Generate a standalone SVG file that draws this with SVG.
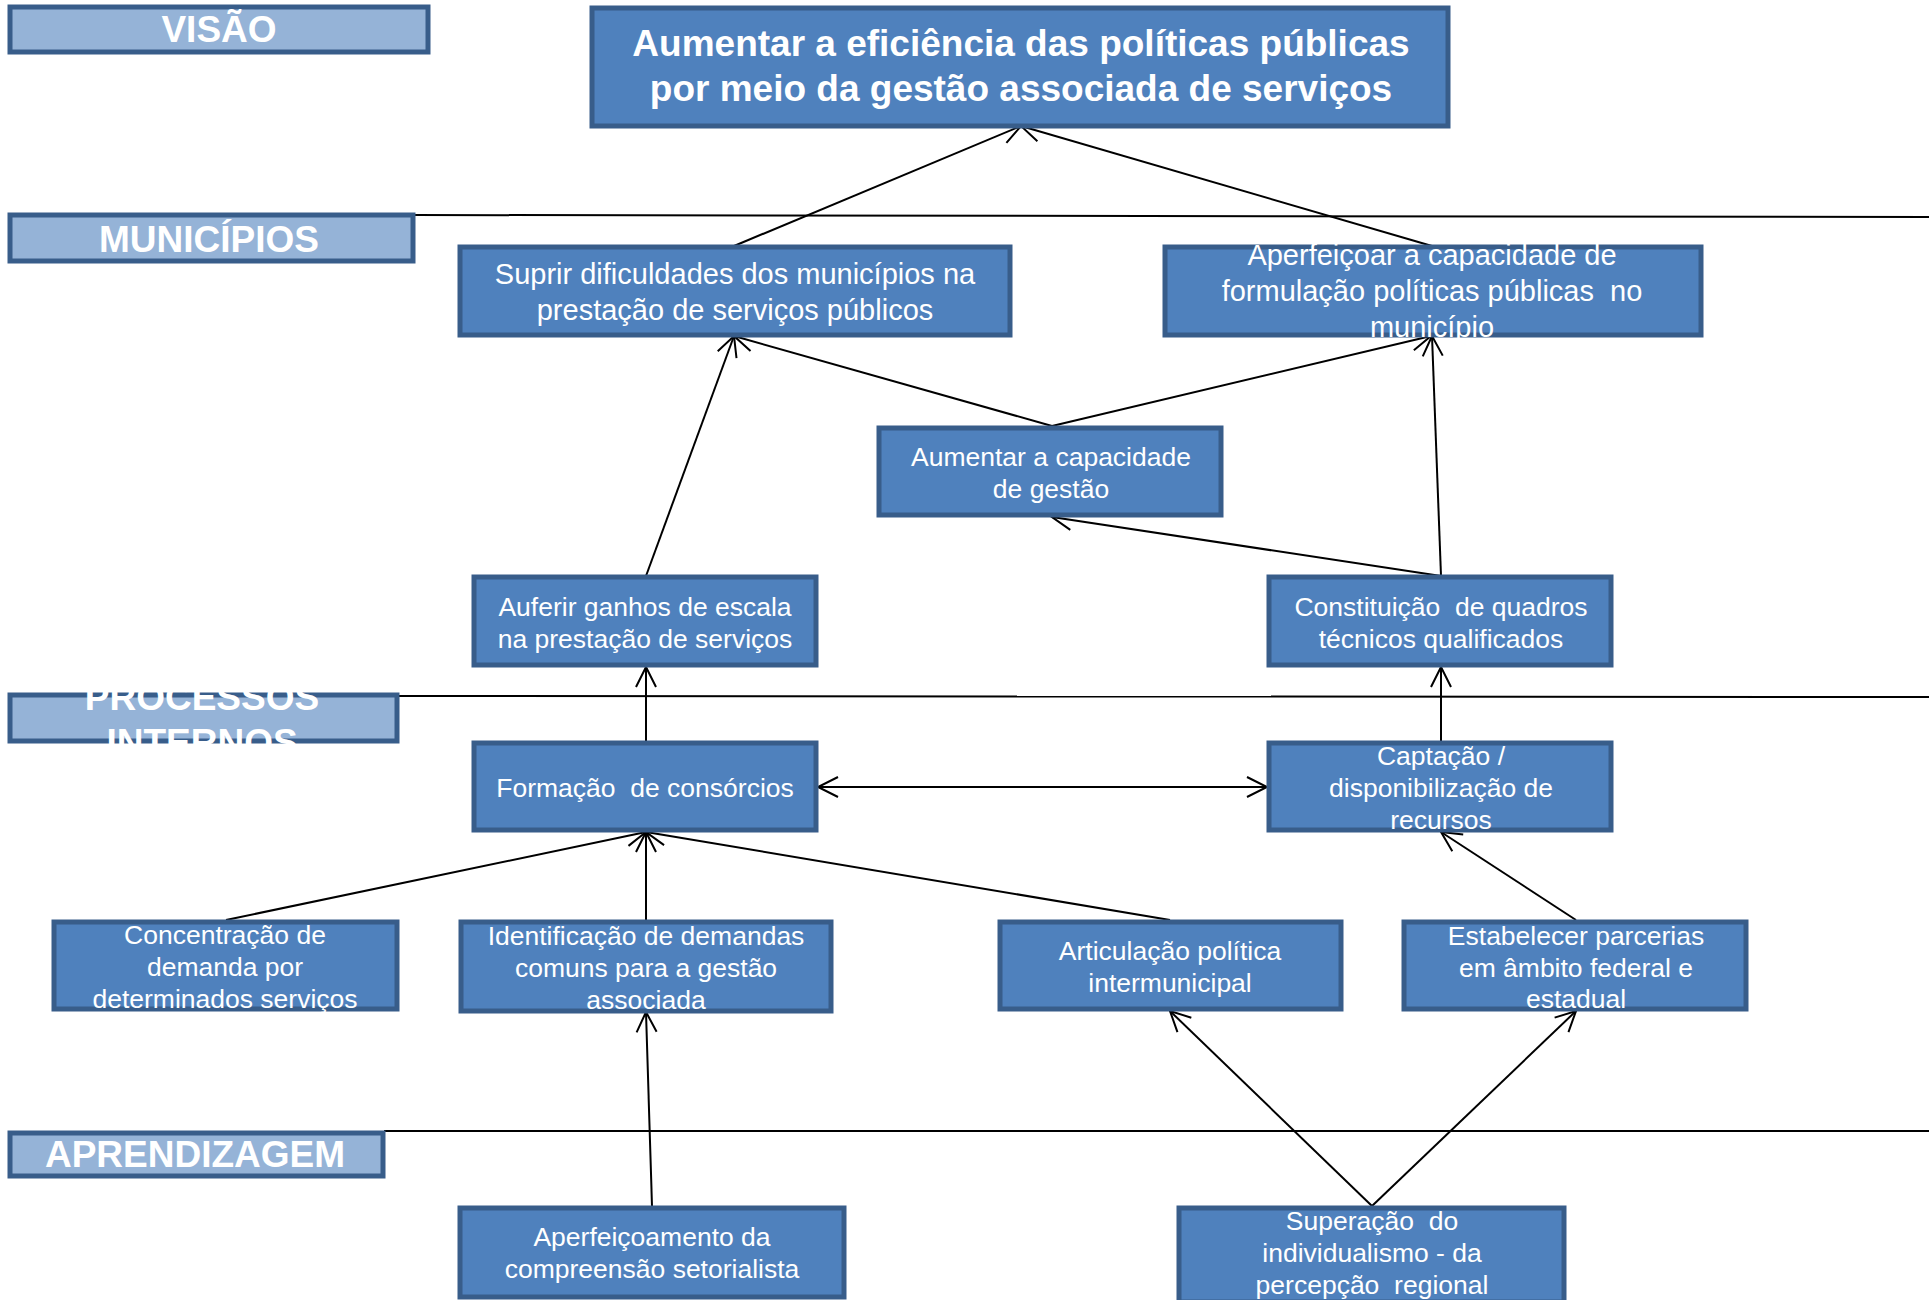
<svg xmlns="http://www.w3.org/2000/svg" width="1929" height="1300" viewBox="0 0 1929 1300">
<style>
.lane{fill:#95B3D7;stroke:#385D8A;stroke-width:5}
.node{fill:#4F81BD;stroke:#385D8A;stroke-width:5}
.lt{font-family:"Liberation Sans",Arial,sans-serif;font-weight:bold;font-size:37px;fill:#ffffff;text-anchor:middle}
.gt{font-family:"Liberation Sans",Arial,sans-serif;font-weight:bold;font-size:37px;fill:#ffffff;text-anchor:middle}
.t1{font-family:"Liberation Sans",Arial,sans-serif;font-size:29px;fill:#ffffff;text-anchor:middle;white-space:pre}
.t2{font-family:"Liberation Sans",Arial,sans-serif;font-size:26.5px;fill:#ffffff;text-anchor:middle;white-space:pre}
.sep{stroke:#000;stroke-width:2;fill:none}
.c{stroke:#000;stroke-width:2;fill:none;marker-end:url(#ah)}
</style>
<defs>
<marker id="ah" viewBox="-23 -13 26 26" refX="0" refY="0" markerWidth="26" markerHeight="26" markerUnits="userSpaceOnUse" orient="auto-start-reverse">
<path d="M-20,-10 L0,0 L-20,10" fill="none" stroke="#000" stroke-width="2"/>
</marker>
<clipPath id="clipProc"><rect x="8" y="686" width="393" height="59"/></clipPath>
</defs>
<rect width="1929" height="1300" fill="#ffffff"/>

<g id="separators">
<line class="sep" x1="415" y1="215" x2="1929" y2="217"/>
<line class="sep" x1="399" y1="696" x2="1929" y2="697"/>
<line class="sep" x1="384" y1="1131" x2="1929" y2="1131"/>
</g>

<g id="lane-visao">
<rect class="lane" x="10" y="7" width="418" height="45"/>
<text class="lt" x="219" y="42">VISÃO</text>
</g>
<g id="lane-municipios">
<rect class="lane" x="10" y="215" width="403" height="46"/>
<text class="lt" x="209" y="252">MUNICÍPIOS</text>
</g>
<g id="lane-processos">
<rect class="lane" x="10" y="695" width="387" height="46"/>
<g clip-path="url(#clipProc)">
<text class="lt" x="202" y="710">PROCESSOS</text>
<text class="lt" x="202" y="755">INTERNOS</text>
</g>
</g>
<g id="lane-aprendizagem">
<rect class="lane" x="10" y="1133" width="373" height="43"/>
<text class="lt" x="195" y="1167">APRENDIZAGEM</text>
</g>

<g id="connectors">
<line class="c" x1="734" y1="246" x2="1021" y2="126"/>
<line class="c" x1="1432" y1="246" x2="1021" y2="126"/>
<line class="c" x1="1052" y1="426" x2="734" y2="336"/>
<line class="c" x1="1052" y1="426" x2="1431" y2="336"/>
<line class="c" x1="646" y1="576" x2="734" y2="336"/>
<line class="c" x1="1441" y1="576" x2="1432" y2="336"/>
<line class="c" x1="1441" y1="576" x2="1052" y2="517"/>
<line class="c" x1="646" y1="741" x2="646" y2="667"/>
<line class="c" x1="1441" y1="741" x2="1441" y2="667"/>
<line class="c" x1="818" y1="787" x2="1267" y2="787" style="marker-start:url(#ah)"/>
<line class="c" x1="226" y1="920" x2="646" y2="832"/>
<line class="c" x1="646" y1="920" x2="646" y2="832"/>
<line class="c" x1="1170" y1="920" x2="646" y2="832"/>
<line class="c" x1="1576" y1="920" x2="1441" y2="832"/>
<line class="c" x1="652" y1="1206" x2="646" y2="1012"/>
<line class="c" x1="1372" y1="1206" x2="1170" y2="1011"/>
<line class="c" x1="1372" y1="1206" x2="1576" y2="1011"/>
</g>

<g id="goal">
<rect class="node" x="592" y="8" width="856" height="118"/>
<text class="gt" x="1021" y="56">Aumentar a eficiência das políticas públicas</text>
<text class="gt" x="1021" y="101">por meio da gestão associada de serviços</text>
</g>

<g id="suprir">
<rect class="node" x="460" y="247" width="550" height="88"/>
<text class="t1" x="735" y="284">Suprir dificuldades dos municípios na</text>
<text class="t1" x="735" y="320">prestação de serviços públicos</text>
</g>

<g id="aperfeicoar">
<rect class="node" x="1165" y="247" width="536" height="88"/>
<text class="t1" x="1432" y="265">Aperfeiçoar a capacidade de</text>
<text class="t1" x="1432" y="301">formulação políticas públicas  no</text>
<text class="t1" x="1432" y="337">município</text>
</g>

<g id="aumentar-capacidade">
<rect class="node" x="879" y="428" width="342" height="87"/>
<text class="t2" x="1051" y="466">Aumentar a capacidade</text>
<text class="t2" x="1051" y="498">de gestão</text>
</g>

<g id="auferir">
<rect class="node" x="474" y="577" width="342" height="88"/>
<text class="t2" x="645" y="616">Auferir ganhos de escala</text>
<text class="t2" x="645" y="648">na prestação de serviços</text>
</g>

<g id="constituicao">
<rect class="node" x="1269" y="577" width="342" height="88"/>
<text class="t2" x="1441" y="616">Constituição  de quadros</text>
<text class="t2" x="1441" y="648">técnicos qualificados</text>
</g>

<g id="formacao">
<rect class="node" x="474" y="743" width="342" height="87"/>
<text class="t2" x="645" y="797">Formação  de consórcios</text>
</g>

<g id="captacao">
<rect class="node" x="1269" y="743" width="342" height="87"/>
<text class="t2" x="1441" y="765">Captação /</text>
<text class="t2" x="1441" y="797">disponibilização de</text>
<text class="t2" x="1441" y="829">recursos</text>
</g>

<g id="concentracao">
<rect class="node" x="54" y="922" width="343" height="87"/>
<text class="t2" x="225" y="944">Concentração de</text>
<text class="t2" x="225" y="976">demanda por</text>
<text class="t2" x="225" y="1008">determinados serviços</text>
</g>

<g id="identificacao">
<rect class="node" x="461" y="922" width="370" height="89"/>
<text class="t2" x="646" y="945">Identificação de demandas</text>
<text class="t2" x="646" y="977">comuns para a gestão</text>
<text class="t2" x="646" y="1009">associada</text>
</g>

<g id="articulacao">
<rect class="node" x="1000" y="922" width="341" height="87"/>
<text class="t2" x="1170" y="960">Articulação política</text>
<text class="t2" x="1170" y="992">intermunicipal</text>
</g>

<g id="estabelecer">
<rect class="node" x="1404" y="922" width="342" height="87"/>
<text class="t2" x="1576" y="945">Estabelecer parcerias</text>
<text class="t2" x="1576" y="977">em âmbito federal e</text>
<text class="t2" x="1576" y="1008">estadual</text>
</g>

<g id="aperfeicoamento">
<rect class="node" x="460" y="1208" width="384" height="89"/>
<text class="t2" x="652" y="1246">Aperfeiçoamento da</text>
<text class="t2" x="652" y="1278">compreensão setorialista</text>
</g>

<g id="superacao">
<rect class="node" x="1179" y="1208" width="385" height="94"/>
<text class="t2" x="1372" y="1230">Superação  do</text>
<text class="t2" x="1372" y="1262">individualismo - da</text>
<text class="t2" x="1372" y="1294">percepção  regional</text>
</g>
</svg>
